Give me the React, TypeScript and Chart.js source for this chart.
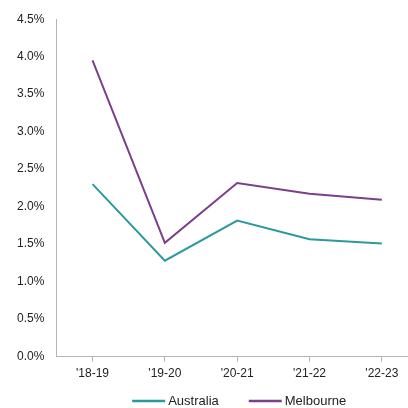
import React, { useEffect, useRef } from "react";
import { Chart, registerables } from "chart.js";

Chart.register(...registerables);

const categories = ["'18-19", "'19-20", "'20-21", "'21-22", "'22-23"];
const australia = [2.3, 1.28, 1.815, 1.566, 1.51];
const melbourne = [3.95, 1.517, 2.314, 2.172, 2.093];
const yTicks = [0, 0.5, 1, 1.5, 2, 2.5, 3, 3.5, 4, 4.5];

const FONT = "Liberation Sans, Arial, sans-serif";

const bottomLegend = {
  id: "bottomLegend",
  afterDraw(chart: any) {
    const ctx = chart.ctx;
    const area = chart.chartArea;
    const lineW = 33;
    const textGap = 3;
    const itemGap = 30;
    ctx.save();
    ctx.font = `13px ${FONT}`;
    const items = chart.data.datasets.map((d: any) => ({
      label: d.label,
      color: d.borderColor,
      w: lineW + textGap + ctx.measureText(d.label).width,
    }));
    const total =
      items.reduce((s: number, it: any) => s + it.w, 0) + itemGap * (items.length - 1);
    let x = (area.left + area.right) / 2 - total / 2 + 2;
    const y = chart.height - 7;
    ctx.textBaseline = "middle";
    ctx.textAlign = "left";
    items.forEach((it: any) => {
      ctx.strokeStyle = it.color;
      ctx.lineWidth = 2.5;
      ctx.beginPath();
      ctx.moveTo(x, y);
      ctx.lineTo(x + lineW, y);
      ctx.stroke();
      ctx.fillStyle = "#222";
      ctx.fillText(it.label, x + lineW + textGap, y + 0.5);
      x += it.w + itemGap;
    });
    ctx.restore();
  },
};

export default function App() {
  const ref = useRef<HTMLCanvasElement | null>(null);
  useEffect(() => {
    if (!ref.current) return;
    const chart = new Chart(ref.current, {
      type: "line",
      data: {
        labels: categories,
        datasets: [
          {
            label: "Australia",
            data: australia,
            borderColor: "#2A9A9E",
            backgroundColor: "#2A9A9E",
            borderWidth: 2,
            pointRadius: 0,
            tension: 0,
          },
          {
            label: "Melbourne",
            data: melbourne,
            borderColor: "#7B3F8C",
            backgroundColor: "#7B3F8C",
            borderWidth: 2,
            pointRadius: 0,
            tension: 0,
          },
        ],
      },
      plugins: [bottomLegend],
      options: {
        responsive: false,
        animation: false,
        layout: { padding: { top: 11, left: 5, right: 0, bottom: 22 } },
        plugins: {
          tooltip: { enabled: false },
          legend: { display: false },
        },
        scales: {
          x: {
            offset: true,
            grid: {
              offset: false,
              drawOnChartArea: false,
              drawTicks: true,
              tickLength: 5,
              color: "#b4b4b4",
            },
            border: { color: "#b4b4b4", width: 1 },
            ticks: {
              color: "#222",
              padding: 5,
              maxRotation: 0,
              font: { family: FONT, size: 12 },
            },
          },
          y: {
            min: 0,
            max: 4.5,
            afterBuildTicks: (axis: any) => {
              axis.ticks = yTicks.map((v) => ({ value: v }));
            },
            grid: { display: false, drawTicks: false },
            border: { color: "#b4b4b4", width: 1 },
            ticks: {
              color: "#222",
              padding: 12,
              callback: (v: any) => Number(v).toFixed(1) + "%",
              font: { family: FONT, size: 12 },
            },
          },
        },
      },
    });
    return () => chart.destroy();
  }, []);
  return (
    <div
      style={{
        position: "fixed",
        left: 0,
        top: 0,
        width: 408,
        height: 408,
        overflow: "hidden",
        background: "#fff",
      }}
    >
      <canvas ref={ref} width={418} height={408} style={{ display: "block" }} />
    </div>
  );
}
